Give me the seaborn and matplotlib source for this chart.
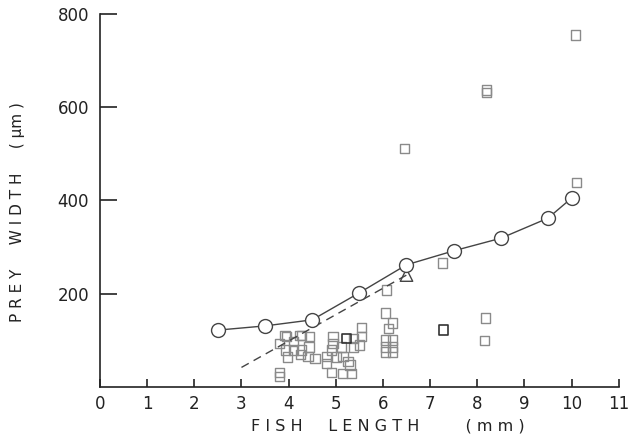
import pandas as pd
import numpy as np
import matplotlib
matplotlib.use("Agg")
import matplotlib.pyplot as plt
import seaborn as sns

# mean prey width per fish length (open circles, solid line)
mean_len = [2.5, 3.5, 4.5, 5.5, 6.5, 7.5, 8.5, 9.5, 10.0]
mean_width = [122, 131, 144, 202, 262, 292, 319, 362, 405]

# dashed line with triangle
tri_len = [3.0, 6.5]
tri_width = [42, 240]

# individual prey (open squares)
sq_len = [10.08, 8.2, 8.2, 6.46, 10.1, 7.27, 8.18, 8.16, 6.08, 6.06, 6.2, 6.12,
          6.05, 6.2, 6.05, 6.2, 6.05, 6.2, 3.96, 3.80, 4.10, 4.27, 4.45, 3.94,
          4.11, 4.27, 4.43, 3.97, 4.25, 4.41, 4.56, 3.81, 3.81, 4.94, 4.94, 4.91,
          4.80, 4.80, 5.01, 5.15, 5.37, 5.26, 5.30, 5.54, 5.54, 5.51, 4.91, 5.14,
          5.33, 5.12, 5.37, 3.92, 4.24]
sq_width = [755, 632, 637, 512, 438, 266, 148, 99, 208, 159, 137, 126,
            101, 101, 86, 86, 75, 75, 109, 94, 97, 111, 109, 79,
            79, 79, 86, 64, 69, 66, 61, 31, 22, 109, 94, 79,
            65, 51, 64, 66, 104, 54, 47, 128, 109, 90, 31, 29,
            29, 86, 86, 111, 111]
dark_len = [7.29, 5.23]
dark_width = [122, 104]

xticks = list(range(0, 12))
yticks = [200, 400, 600, 800]

sns.set_style("ticks")
plt.rcParams['font.family'] = ['DejaVu Sans']

fig = plt.figure(figsize=(6.29, 4.36), dpi=100)
ax = fig.add_axes([0.159, 0.1124, 0.8246, 0.8556])

sq = pd.DataFrame({"len": sq_len, "width": sq_width})
sns.scatterplot(data=sq, x="len", y="width", marker="s", s=45,
                facecolor="none", edgecolor="#8a8a8a", linewidth=1.0, ax=ax)
dk = pd.DataFrame({"len": dark_len, "width": dark_width})
sns.scatterplot(data=dk, x="len", y="width", marker="s", s=45,
                facecolor="none", edgecolor="#333333", linewidth=1.2, ax=ax)

tri = pd.DataFrame({"len": tri_len, "width": tri_width})
sns.lineplot(data=tri, x="len", y="width", color="#444444", linewidth=1.0, ax=ax)
ax.lines[-1].set_linestyle((0, (6, 4)))
sns.scatterplot(x=tri_len[-1:], y=tri_width[-1:], marker="^", s=80,
                facecolor="none", edgecolor="#444444", linewidth=1.0, ax=ax)

mn = pd.DataFrame({"len": mean_len, "width": mean_width})
sns.lineplot(data=mn, x="len", y="width", color="#444444", linewidth=1.0,
             marker="o", markersize=10, markerfacecolor="white",
             markeredgecolor="#444444", markeredgewidth=1.0, ax=ax)

ax.set_xlim(0, 11)
ax.set_ylim(0, 800)
ax.set_xticks(xticks)
ax.set_xticklabels([str(t) for t in xticks])
ax.set_yticks(yticks)
ax.set_yticklabels([str(t) for t in yticks])
ax.tick_params(axis="y", direction="in", length=12, width=1.2, labelsize=12,
               pad=8, colors="#222222")
ax.tick_params(axis="x", direction="in", length=6, width=1.2, labelsize=12,
               pad=6, colors="#222222")
for side in ["top", "right"]:
    ax.spines[side].set_visible(False)
for side in ["left", "bottom"]:
    ax.spines[side].set_linewidth(1.2)
    ax.spines[side].set_color("#222222")

ax.set_xlabel("F I S H     L E N G T H         ( m m )", fontsize=11.5,
              color="#222222")
ax.xaxis.set_label_coords(0.555, -0.085)
ax.set_ylabel("P R E Y     W I D T H     ( \u03bcm )", fontsize=11,
              color="#222222")
ax.yaxis.set_label_coords(-0.145, 0.47)

fig.savefig("out.png", dpi=100)
